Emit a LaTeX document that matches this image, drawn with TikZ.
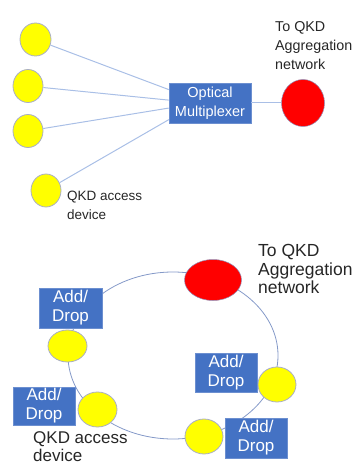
\documentclass[tikz,border=0pt]{standalone}
\usepackage{fontspec}
\setmainfont{Liberation Sans}
\usetikzlibrary{shapes.geometric}
\definecolor{boxblue}{HTML}{4472C4}
\definecolor{boxedge}{HTML}{6C8FD0}
\definecolor{dotyellow}{HTML}{FFFF00}
\definecolor{dotedge}{HTML}{A9AEC6}
\definecolor{dotred}{HTML}{FF0000}
\definecolor{rededge}{HTML}{9090B8}
\definecolor{fibre}{HTML}{A9BFE6}
\definecolor{ringline}{HTML}{8499C8}
\tikzset{
  dev/.style={ellipse, fill=dotyellow, draw=dotedge, line width=0.8pt, inner sep=0pt},
  agg/.style={ellipse, fill=dotred, draw=rededge, line width=0.5pt, inner sep=0pt},
  blk/.style={rectangle, fill=boxblue, draw=boxedge, line width=0.5pt, inner sep=0pt, text=white, align=center},
  lbl/.style={align=left, anchor=west, inner sep=0pt, text=black!85},
  fib/.style={draw=fibre, line width=1pt},
}
\begin{document}
\begin{tikzpicture}[x=1pt,y=-1pt]
\useasboundingbox (0,0) rectangle (362,465);
% ---- top: multiplexer
\node[dev, minimum width=31pt, minimum height=33pt] (d1) at (35.5,39.5) {};
\node[dev, minimum width=30pt, minimum height=33pt] (d2) at (28,86) {};
\node[dev, minimum width=30pt, minimum height=33pt] (d3) at (28,131) {};
\node[dev, minimum width=30pt, minimum height=33pt] (d4) at (46,190.5) {};
\node[blk, minimum width=82pt, minimum height=40pt, font=\fontsize{14.5}{19}\selectfont] (mux) at (210,103) {Optical\\Multiplexer};
\node[agg, minimum width=43pt, minimum height=47pt] (r1) at (303,103) {};
\draw[fib] (d1) -- (mux.162);
\draw[fib] (d2) -- (mux.176);
\draw[fib] (d3) -- (mux.187);
\draw[fib] (d4) -- (mux.202);
\draw[fib] (mux) -- (r1);
\node[lbl, font=\fontsize{14.3}{19}\selectfont] (t1) at (275,46) {To QKD\\Aggregation\\network};
\node[lbl, font=\fontsize{13.5}{19}\selectfont] (q1) at (67,205) {QKD access\\device};
% ---- bottom: ring
\coordinate (rc) at (173,355.5);
\draw[ringline, line width=0.8pt] (rc) ellipse [x radius=105pt, y radius=83.5pt];
\node[agg, minimum width=57pt, minimum height=41pt] (r2) at (213,280) {};
\node[dev, minimum width=39pt, minimum height=32pt] (e1) at (67.5,346) {};
\node[dev, minimum width=39pt, minimum height=35pt] (e2) at (97.5,409.5) {};
\node[dev, minimum width=38pt, minimum height=35pt] (e3) at (204,436.5) {};
\node[dev, minimum width=38pt, minimum height=35pt] (e4) at (277,384.5) {};
\node[blk, minimum width=63pt, minimum height=40pt, font=\fontsize{17}{19}\selectfont] (b1) at (70.5,308) {Add/\\Drop};
\node[blk, minimum width=62pt, minimum height=39pt, font=\fontsize{17}{19}\selectfont] (b2) at (226,372.5) {Add/\\Drop};
\node[blk, minimum width=62pt, minimum height=38pt, font=\fontsize{17}{19}\selectfont] (b3) at (44,406) {Add/\\Drop};
\node[blk, minimum width=62pt, minimum height=40pt, font=\fontsize{17}{19}\selectfont] (b4) at (256,438) {Add/\\Drop};
\node[lbl, font=\fontsize{17.5}{18.3}\selectfont] (t2) at (258,269) {To QKD\\Aggregation\\network};
\node[lbl, font=\fontsize{17}{18}\selectfont] (q2) at (33,446.5) {QKD access\\device};
\end{tikzpicture}
\end{document}
